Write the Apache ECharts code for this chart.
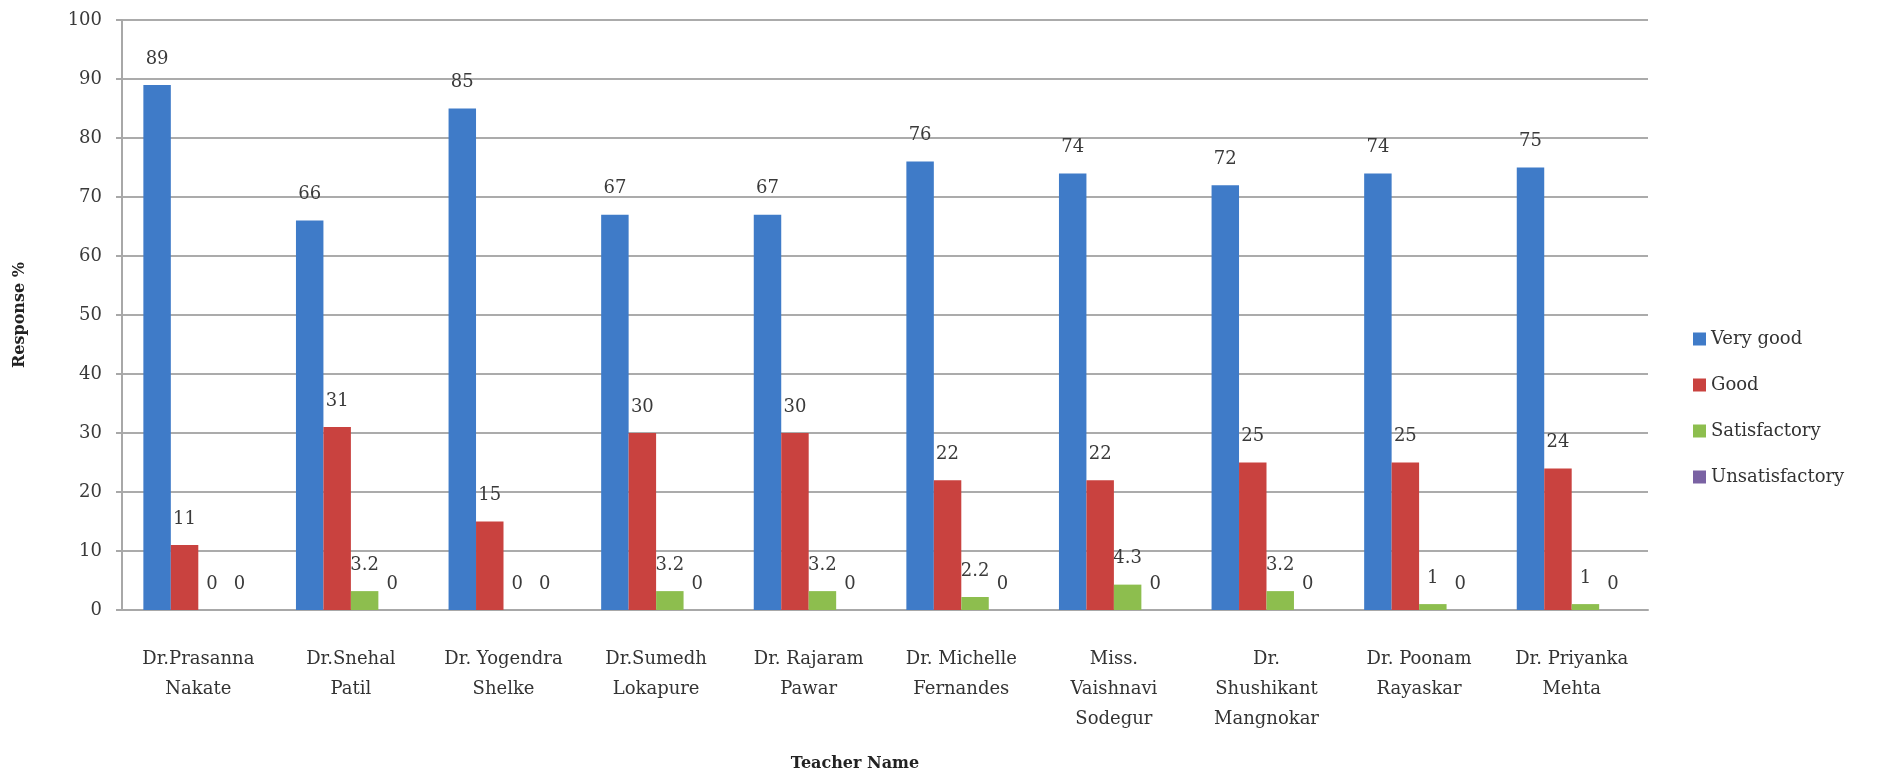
<!DOCTYPE html>
<html>
<head>
<meta charset="utf-8">
<script src="https://cdn.jsdelivr.net/npm/echarts@6/dist/echarts.min.js"></script>
<style>
  html, body { margin: 0; padding: 0; background: #fff; }
  #chart { width: 1879px; height: 777px; }
</style>
</head>
<body>
<div id="chart"></div>
<script>
// teacher names (x axis)
var teachers = [
  'Dr.Prasanna\nNakate', 'Dr.Snehal\nPatil', 'Dr. Yogendra\nShelke', 'Dr.Sumedh\nLokapure',
  'Dr. Rajaram\nPawar', 'Dr. Michelle\nFernandes', 'Miss.\nVaishnavi\nSodegur',
  'Dr.\nShushikant\nMangnokar', 'Dr. Poonam\nRayaskar', 'Dr. Priyanka\nMehta'
];
var veryGood = [89, 66, 85, 67, 67, 76, 74, 72, 74, 75];
var good = [11, 31, 15, 30, 30, 22, 22, 25, 25, 24];
var satisfactory = [0, 3.2, 0, 3.2, 3.2, 2.2, 4.3, 3.2, 1, 1];
var unsatisfactory = [0, 0, 0, 0, 0, 0, 0, 0, 0, 0];
var yTicks = [0, 10, 20, 30, 40, 50, 60, 70, 80, 90, 100];

// scan text is wide, DejaVu Serif fits it better than Times
var FONT = '"DejaVu Serif", "Liberation Serif", serif';

var mkSeries = function(name, data, color){
  return {
    name: name,
    type: 'bar',
    data: data,
    barGap: 0,
    barCategoryGap: '28%',
    itemStyle: { color: color },
    label: {
      show: true,
      position: 'top',
      distance: 17,
      fontFamily: FONT,
      fontSize: 18,
      color: '#3a3a3a'
    }
  };
};

var chart = echarts.init(document.getElementById('chart'));
chart.setOption({
  animation: false,
  backgroundColor: '#fff',
  textStyle: { fontFamily: FONT },
  grid: { left: 122, right: 231, top: 20, bottom: 164 },
  legend: {
    orient: 'vertical',
    left: 1688,
    top: 323,
    itemWidth: 13,
    itemHeight: 13,
    itemGap: 24,
    icon: 'rect',
    textStyle: { fontFamily: FONT, fontSize: 18, color: '#333', lineHeight: 22 },
    data: ['Very good', 'Good', 'Satisfactory', 'Unsatisfactory']
  },
  xAxis: {
    type: 'category',
    data: teachers,
    name: 'Teacher Name',
    nameLocation: 'middle',
    nameGap: 146,
    nameTextStyle: { fontFamily: FONT, fontSize: 16, fontWeight: 'bold', color: '#222', padding: [0, 60, 0, 0] },
    axisLine: { lineStyle: { color: '#a8a8a8', width: 2 } },
    axisTick: { show: false },
    axisLabel: {
      interval: 0,
      margin: 34,
      fontFamily: FONT,
      fontSize: 18,
      lineHeight: 30,
      color: '#333',
      verticalAlign: 'top'
    }
  },
  yAxis: {
    type: 'value',
    min: yTicks[0],
    max: yTicks[yTicks.length - 1],
    interval: 10,
    name: 'Response %',
    nameLocation: 'middle',
    nameGap: 94,
    nameTextStyle: { fontFamily: FONT, fontSize: 16, fontWeight: 'bold', color: '#222' },
    axisLine: { show: true, lineStyle: { color: '#a8a8a8', width: 2 } },
    axisTick: { show: true, length: 6, lineStyle: { color: '#a8a8a8', width: 2 } },
    axisLabel: { fontFamily: FONT, fontSize: 18, color: '#3a3a3a', margin: 20 },
    splitLine: { lineStyle: { color: '#ababab', width: 2 } }
  },
  series: [
    mkSeries('Very good', veryGood, '#3F7BC8'),
    mkSeries('Good', good, '#C9423F'),
    mkSeries('Satisfactory', satisfactory, '#8DBE4E'),
    mkSeries('Unsatisfactory', unsatisfactory, '#7A62A3')
  ]
});
</script>
</body>
</html>
